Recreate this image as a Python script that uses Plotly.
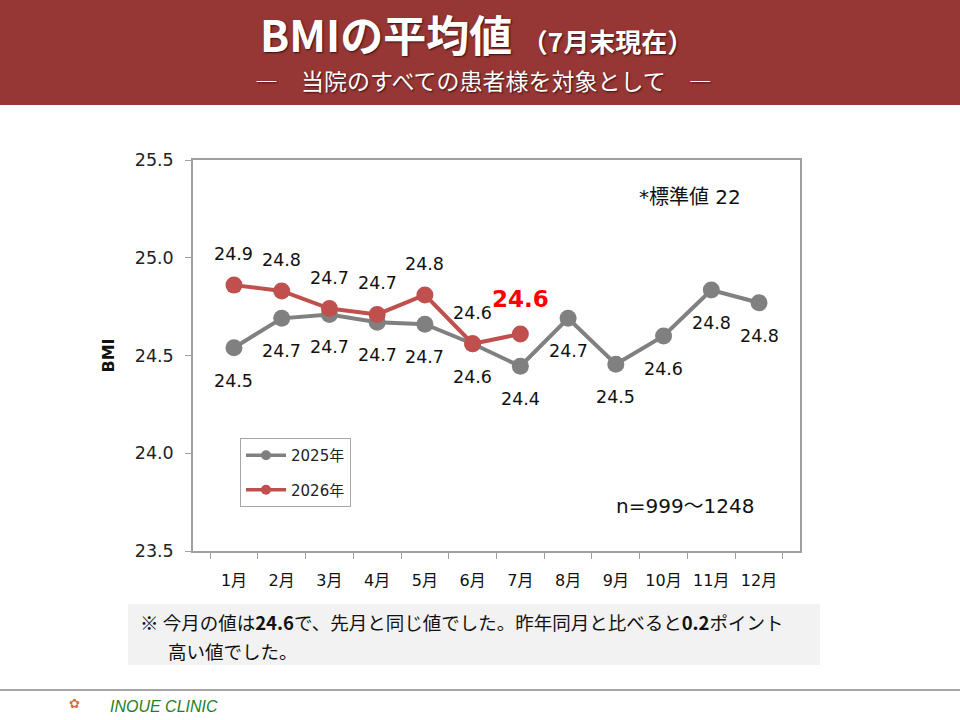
"""BMI monthly average chart (slide style) rebuilt with Plotly."""

import plotly.graph_objects as go

W, H = 960, 720
# plot area in pixels
PL, PR, PT, PB = 193, 800, 160, 551

months = ["1月", "2月", "3月", "4月", "5月", "6月", "7月", "8月", "9月", "10月", "11月", "12月"]
bmi_2025 = [24.54, 24.69, 24.71, 24.67, 24.66, 24.56, 24.445, 24.69, 24.455, 24.60, 24.835, 24.77]
labels_2025 = ["24.5", "24.7", "24.7", "24.7", "24.7", "24.6", "24.4", "24.7", "24.5", "24.6", "24.8", "24.8"]
bmi_2026 = [24.86, 24.83, 24.74, 24.71, 24.81, 24.56, 24.61]
labels_2026 = ["24.9", "24.8", "24.7", "24.7", "24.8", "24.6", "24.6"]
y_ticks = [23.5, 24.0, 24.5, 25.0, 25.5]

GRAY = "#808080"
RED = "#c0504d"
HEADER = "#963735"
FONT = "DejaVu Sans, Noto Sans CJK JP, sans-serif"
JP = "Noto Sans CJK JP, sans-serif"


def px_x(px):
    return (px - PL) / (PR - PL)


def px_y(py):
    return (PB - py) / (PB - PT)


def note(text, x, y, size, color="#111", family=FONT, anchor="center", **kw):
    """Free text placed by page pixels."""
    return dict(xref="paper", yref="paper", x=px_x(x), y=px_y(y), showarrow=False,
                xanchor=anchor, yanchor="middle", align=anchor if anchor != "center" else "center",
                text=text, font=dict(family=family, size=size, color=color, **kw))


fig = go.Figure()
for name, ys, color in [("2025年", bmi_2025, GRAY), ("2026年", bmi_2026, RED)]:
    fig.add_trace(go.Scatter(
        x=months[:len(ys)], y=ys, name=name, mode="lines+markers",
        line=dict(color=color, width=4), marker=dict(size=17, color=color),
        showlegend=False,
    ))
# legend entries drawn with the smaller symbol used in the original
for i, (name, color) in enumerate([("2025年", GRAY), ("2026年", RED)]):
    fig.add_trace(go.Scatter(
        x=[None], y=[None], name=name, mode="lines+markers",
        line=dict(color=color, width=3.5), marker=dict(size=10, color=color),
        legendgroup=str(i),
    ))

ann = []
for m, v, t in zip(months, bmi_2025, labels_2025):
    ann.append(dict(x=m, y=v, text=t, showarrow=False, yshift=-33,
                    xanchor="center", yanchor="middle",
                    font=dict(family=FONT, size=17.5, color="#111")))
for i, (m, v, t) in enumerate(zip(months, bmi_2026, labels_2026)):
    if i == len(bmi_2026) - 1:
        # latest month highlighted
        ann.append(dict(x=m, y=v, text="<b>%s</b>" % t, showarrow=False, yshift=35,
                        xanchor="center", yanchor="middle",
                        font=dict(family=FONT, size=23, color="#ff0000")))
    else:
        ann.append(dict(x=m, y=v, text=t, showarrow=False, yshift=31,
                        xanchor="center", yanchor="middle",
                        font=dict(family=FONT, size=17.5, color="#111")))

shadow = "1px 1px 2px #3a1010"
ann += [
    note("<b>BMIの平均値</b> <b><span style='font-size:26px'>（7月末現在）</span></b>",
         476, 33, 43, color="white", family=JP, shadow=shadow),
    note("―　当院のすべての患者様を対象として　―", 483, 80, 23, color="white", family=JP, shadow=shadow),
    note("*標準値 22", 690, 197, 20),
    note("n=999～1248", 685, 506, 20),
    note("※ 今月の値は<b>24.6</b>で、先月と同じ値でした。昨年同月と比べると<b>0.2</b>ポイント",
         138, 622, 18.5, family=JP, anchor="left"),
    note("高い値でした。", 166, 651, 18.5, family=JP, anchor="left"),
    note("<i>INOUE CLINIC</i>", 108, 706, 16, color="#1e7f28",
         family="Liberation Sans Narrow, Liberation Sans, sans-serif", anchor="left"),
    note("✿", 74, 703, 13, color="#e06a40"),
]

shapes = [
    dict(type="rect", xref="paper", yref="paper", x0=px_x(0), x1=px_x(W), y0=px_y(0), y1=px_y(105),
         fillcolor=HEADER, line=dict(width=0), layer="below"),
    dict(type="rect", xref="paper", yref="paper", x0=px_x(128), x1=px_x(820), y0=px_y(604), y1=px_y(665),
         fillcolor="#f2f2f2", line=dict(width=0), layer="below"),
    dict(type="line", xref="paper", yref="paper", x0=px_x(0), x1=px_x(W), y0=px_y(690), y1=px_y(690),
         line=dict(color="#a6a6a6", width=2)),
]

fig.update_layout(
    width=W, height=H,
    margin=dict(l=PL, r=W - PR, t=PT, b=H - PB, pad=0),
    paper_bgcolor="white", plot_bgcolor="white",
    font=dict(family=FONT, size=15, color="#222"),
    showlegend=True,
    legend=dict(
        x=px_x(240), y=px_y(438), xanchor="left", yanchor="top",
        bgcolor="white", bordercolor="#a6a6a6", borderwidth=1,
        font=dict(family=FONT, size=15, color="#222"),
        traceorder="grouped", tracegroupgap=12, itemwidth=40,
    ),
    annotations=ann,
    shapes=shapes,
)
fig.update_xaxes(
    type="category", categoryorder="array", categoryarray=months,
    showline=True, linecolor="#a0a0a0", linewidth=1.5, mirror=True,
    ticks="outside", tickson="boundaries", ticklen=6, tickcolor="#a0a0a0",
    showgrid=False, zeroline=False, ticklabelstandoff=14,
    tickfont=dict(family=FONT, size=16, color="#111"),
)
fig.update_yaxes(
    range=[23.5, 25.5], tickvals=y_ticks, ticktext=["%.1f" % v for v in y_ticks],
    showline=True, linecolor="#a0a0a0", linewidth=1.5, mirror=True,
    ticks="outside", ticklen=6, tickcolor="#a0a0a0",
    showgrid=False, zeroline=False, ticklabelstandoff=8,
    tickfont=dict(family=FONT, size=17.5, color="#222"),
    title=dict(text="<b>BMI</b>", font=dict(family=FONT, size=16, color="#111"), standoff=16),
)

# the page's default body margin would push the slide off by 8px
fig.write_html("out.html", config={"displayModeBar": False},
               post_script="document.body.style.margin='0';")
